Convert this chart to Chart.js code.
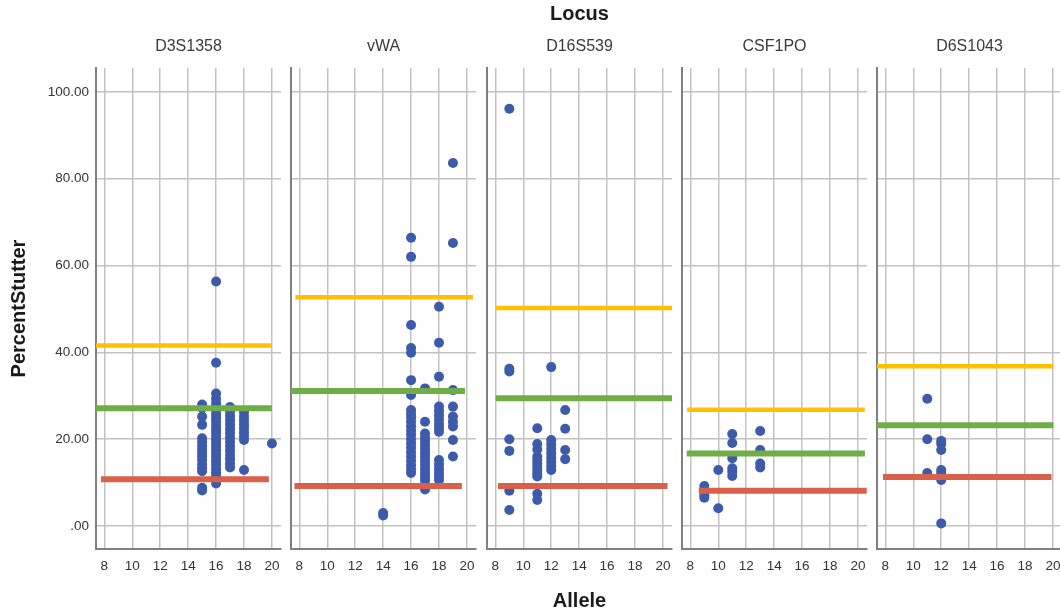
<!DOCTYPE html>
<html>
<head>
<meta charset="utf-8">
<script src="https://cdn.jsdelivr.net/npm/chart.js@4"></script>
<style>
  html, body { margin: 0; padding: 0; background: #fff; overflow: hidden; }
  #wrap { position: relative; width: 1060px; height: 613px; overflow: hidden; background: #fff; }
  #wrap canvas { position: absolute; top: 0; }
</style>
</head>
<body>
<div id="wrap"></div>
<script>
// ---------- data ----------
const loci = ['D3S1358', 'vWA', 'D16S539', 'CSF1PO', 'D6S1043'];
const xTicks = [8, 10, 12, 14, 16, 18, 20];
const yTicks = [0, 20, 40, 60, 80, 100];
const yTickLabels = ['.00', '20.00', '40.00', '60.00', '80.00', '100.00'];

// [allele, percent stutter]
const d3s1358 = [
  [15,28.0],[15,27.2],[15,25.2],[15,23.3],[15,20.2],[15,19.3],[15,18.4],[15,17.6],[15,16.8],[15,16.0],[15,15.2],[15,14.2],[15,13.3],[15,12.6],[15,8.8],[15,8.2],
  [16,56.3],[16,37.6],[16,30.5],[16,29.3],[16,28.3],[16,27.4],[16,26.5],[16,25.6],[16,24.8],[16,24.0],[16,23.1],[16,22.3],[16,21.5],[16,20.6],[16,19.8],[16,19.0],[16,18.2],[16,17.4],[16,16.5],[16,15.7],[16,14.9],[16,14.1],[16,13.2],[16,12.4],[16,11.6],[16,10.8],[16,9.8],
  [17,27.4],[17,26.4],[17,25.4],[17,24.4],[17,23.4],[17,22.4],[17,21.4],[17,20.4],[17,19.4],[17,18.4],[17,17.4],[17,16.4],[17,15.4],[17,14.4],[17,13.5],
  [18,26.2],[18,25.2],[18,24.3],[18,23.4],[18,22.5],[18,21.6],[18,20.7],[18,19.8],[18,12.9],
  [20,19.0]
];
const vwa = [
  [14,3.0],[14,2.4],
  [16,66.4],[16,62.0],[16,46.3],[16,41.0],[16,39.9],[16,33.6],[16,30.2],[16,26.7],[16,25.8],[16,25.0],[16,24.0],[16,23.0],[16,22.0],[16,21.0],[16,20.0],[16,19.0],[16,18.0],[16,17.0],[16,16.0],[16,15.0],[16,14.0],[16,13.0],[16,12.2],
  [17,31.7],[17,24.0],[17,21.3],[17,20.4],[17,19.5],[17,18.6],[17,17.7],[17,16.8],[17,15.9],[17,15.0],[17,14.1],[17,13.2],[17,12.3],[17,11.4],[17,10.5],[17,9.4],[17,8.4],
  [18,50.5],[18,42.2],[18,34.4],[18,27.5],[18,26.5],[18,25.5],[18,24.5],[18,23.5],[18,22.6],[18,21.7],[18,15.2],[18,14.2],[18,13.2],[18,12.3],[18,11.4],[18,10.6],
  [19,83.6],[19,65.2],[19,31.3],[19,27.5],[19,25.2],[19,24.0],[19,22.9],[19,19.8],[19,16.0]
];
const d16s539 = [
  [9,96.1],[9,36.2],[9,35.6],[9,20.0],[9,17.3],[9,8.1],[9,3.7],
  [11,22.5],[11,18.9],[11,17.6],[11,16.0],[11,15.2],[11,14.4],[11,13.6],[11,12.8],[11,12.0],[11,11.4],[11,7.4],[11,6.0],
  [12,36.6],[12,19.8],[12,18.8],[12,17.8],[12,16.8],[12,15.8],[12,14.8],[12,13.8],[12,12.9],
  [13,26.7],[13,22.4],[13,17.5],[13,15.4]
];
const csf1po = [
  [9,9.2],[9,8.3],[9,7.1],[9,6.5],
  [10,12.9],[10,4.1],
  [11,21.2],[11,19.1],[11,15.6],[11,13.3],[11,12.5],[11,11.5],
  [13,21.9],[13,17.5],[13,14.4],[13,13.5]
];
const d6s1043 = [
  [11,29.3],[11,20.0],[11,12.2],
  [12,19.6],[12,18.9],[12,17.5],[12,12.9],[12,12.2],[12,10.6],[12,0.6]
];
const locusPoints = [d3s1358, vwa, d16s539, csf1po, d6s1043];

// reference lines per locus (value, and allele range covered)
const upperLimit = [41.6, 52.7, 50.2, 26.8, 36.8];
const meanLine   = [27.1, 31.1, 29.4, 16.7, 23.2];
const lowerLimit = [10.75, 9.2, 9.2, 8.1, 11.3];
const upperRange = [[7.4,20.0],[7.72,20.43],[8.03,20.65],[7.77,20.49],[7.4,20.04]];
const meanRange  = [[7.4,20.0],[7.4,19.86],[8.02,20.65],[7.74,20.5],[7.4,20.04]];
const lowerRange = [[7.76,19.78],[7.65,19.64],[8.18,20.33],[8.6,20.63],[7.83,19.9]];

// ---------- layout / style ----------
const FONT = "'Liberation Sans', Arial, Helvetica, sans-serif";
const panelLeft = [96, 291, 487, 682, 877];
const areaWidth = 185;
const overflowPad = 5;            // Chart.js reserves point radius at the canvas edge
const yAxisW0 = 96, yAxisW = 6;
const X_MIN = 7.4, X_MAX = 20.65, Y_MIN = -5.3, Y_MAX = 105.5;
const gridColor = '#c2c2c2';
const axisColor = '#808080';
const C_POINT = '#3d5baa', C_UP = '#ffc000', C_MEAN = '#70ad47', C_LOW = '#da6149';

const wrap = document.getElementById('wrap');

function lineDs(range, v, color, w) {
  return {
    data: [{x: range[0], y: v}, {x: range[1], y: v}],
    showLine: true, borderColor: color, borderWidth: w, pointRadius: 0,
    borderCapStyle: 'butt', order: 1
  };
}

loci.forEach((name, i) => {
  const yw = i === 0 ? yAxisW0 : yAxisW;
  const cv = document.createElement('canvas');
  const left = panelLeft[i] - yw;
  cv.width = yw + areaWidth + overflowPad;
  cv.height = 613;
  cv.style.left = left + 'px';
  cv.style.width = cv.width + 'px';
  cv.style.height = '613px';
  wrap.appendChild(cv);

  const pts = locusPoints[i].map(p => ({x: p[0], y: p[1]}));

  new Chart(cv, {
    type: 'scatter',
    data: {
      datasets: [
        lineDs(upperRange[i], upperLimit[i], C_UP, 4.5),
        lineDs(meanRange[i], meanLine[i], C_MEAN, 6),
        lineDs(lowerRange[i], lowerLimit[i], C_LOW, 6),
        { data: pts, backgroundColor: C_POINT, borderWidth: 0, pointRadius: 5, order: 2 }
      ]
    },
    options: {
      responsive: false,
      animation: false,
      devicePixelRatio: 1,
      layout: { padding: 0 },
      events: [],
      plugins: {
        legend: { display: false },
        tooltip: { enabled: false },
        title: {
          display: true, text: i === 2 ? 'Locus' : '', fullSize: false,
          font: { family: FONT, size: 20, weight: 'bold' }, color: '#1a1a1a',
          padding: { top: 2, bottom: 10 }
        },
        subtitle: {
          display: true, text: name, fullSize: false,
          font: { family: FONT, size: 16, weight: 'normal' }, color: '#3a3a3a',
          padding: { top: 1.4, bottom: 11.4 }
        }
      },
      scales: {
        x: {
          type: 'linear', position: 'bottom', min: X_MIN, max: X_MAX,
          afterBuildTicks: s => { s.ticks = xTicks.map(v => ({ value: v })); },
          afterFit: s => { s.height = 64; s.paddingLeft = 0; s.paddingRight = 0; },
          grid: { color: gridColor, lineWidth: 1.5, drawTicks: false },
          border: { display: true, color: axisColor, width: 2 },
          ticks: {
            autoSkip: false, maxRotation: 0, padding: 9,
            font: { family: FONT, size: 13.5 }, color: '#333',
            callback: v => String(v)
          },
          title: {
            display: i === 2, text: 'Allele',
            font: { family: FONT, size: 20, weight: 'bold' }, color: '#1a1a1a',
            padding: { top: 0, bottom: 0 }
          }
        },
        y: {
          type: 'linear', position: 'left', min: Y_MIN, max: Y_MAX,
          afterBuildTicks: s => { s.ticks = yTicks.map(v => ({ value: v })); },
          afterFit: s => { s.width = yw; s.paddingTop = 0; s.paddingBottom = 0; },
          grid: { color: gridColor, lineWidth: 1.5, drawTicks: false },
          border: { display: true, color: axisColor, width: 2 },
          ticks: {
            display: i === 0, padding: 7,
            font: { family: FONT, size: 13.5 }, color: '#333',
            callback: v => yTickLabels[yTicks.indexOf(v)]
          },
          title: {
            display: i === 0, text: 'PercentStutter',
            font: { family: FONT, size: 20, weight: 'bold' }, color: '#1a1a1a',
            padding: { top: 7.5, bottom: 0 }
          }
        }
      }
    }
  });
});
</script>
</body>
</html>
